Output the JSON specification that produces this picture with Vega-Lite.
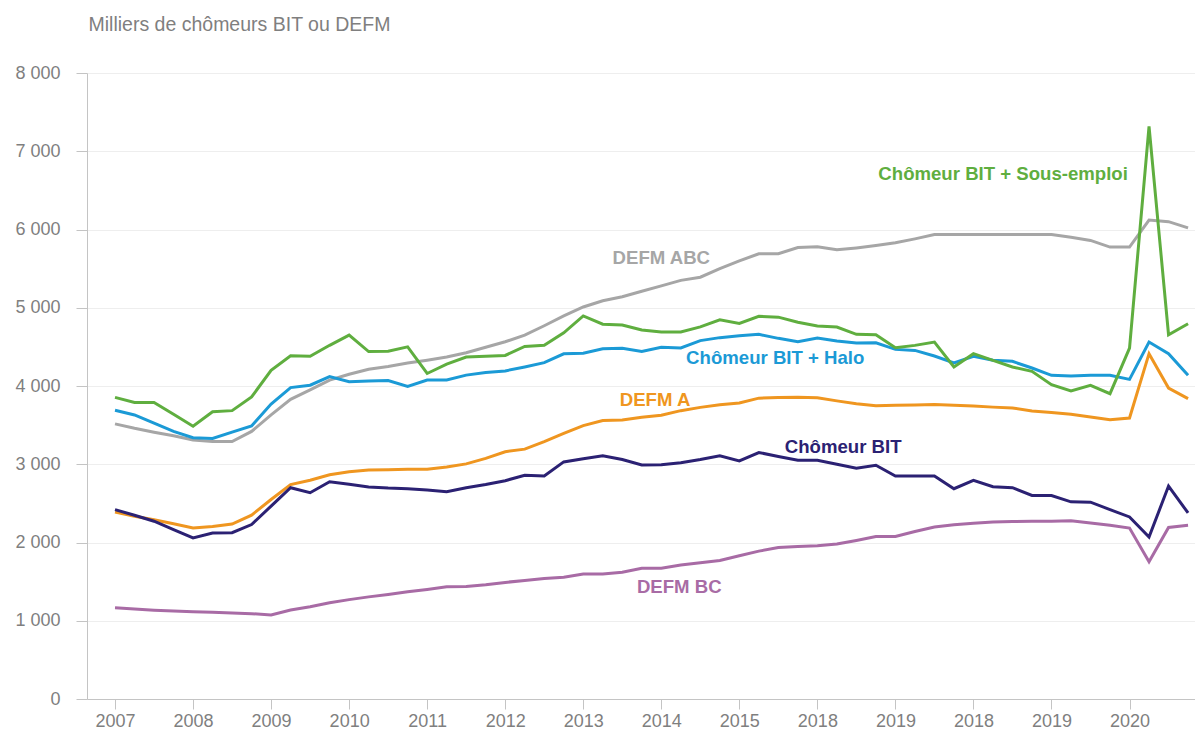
{
  "$schema": "https://vega.github.io/schema/vega-lite/v6.json",
  "width": 1108,
  "height": 626,
  "autosize": {"type": "none"},
  "padding": {"left": 87, "top": 73, "right": 0, "bottom": 32},
  "background": "white",
  "config": {"view": {"stroke": null}, "font": "Liberation Sans"},
  "datasets": {
    "series": [
      {"t": 2007, "abc": 3516, "bc": 1167, "a": 2390, "bit": 2420, "halo": 3690, "sous": 3855},
      {"t": 2007.25, "abc": 3460, "bc": 1150, "a": 2335, "bit": 2349, "halo": 3630, "sous": 3790},
      {"t": 2007.5, "abc": 3410, "bc": 1135, "a": 2290, "bit": 2272, "halo": 3525, "sous": 3790},
      {"t": 2007.75, "abc": 3365, "bc": 1125, "a": 2240, "bit": 2165, "halo": 3420, "sous": 3640},
      {"t": 2008, "abc": 3310, "bc": 1116, "a": 2185, "bit": 2058, "halo": 3340, "sous": 3485},
      {"t": 2008.25, "abc": 3290, "bc": 1108, "a": 2205, "bit": 2122, "halo": 3330, "sous": 3670},
      {"t": 2008.5, "abc": 3290, "bc": 1100, "a": 2235, "bit": 2125, "halo": 3410, "sous": 3685},
      {"t": 2008.75, "abc": 3420, "bc": 1090, "a": 2350, "bit": 2229, "halo": 3490, "sous": 3860},
      {"t": 2009, "abc": 3630, "bc": 1075, "a": 2550, "bit": 2465, "halo": 3770, "sous": 4200},
      {"t": 2009.25, "abc": 3830, "bc": 1137, "a": 2740, "bit": 2700, "halo": 3980, "sous": 4385},
      {"t": 2009.5, "abc": 3950, "bc": 1180, "a": 2795, "bit": 2636, "halo": 4010, "sous": 4380},
      {"t": 2009.75, "abc": 4075, "bc": 1230, "a": 2865, "bit": 2777, "halo": 4120, "sous": 4520},
      {"t": 2010, "abc": 4150, "bc": 1270, "a": 2905, "bit": 2743, "halo": 4055, "sous": 4650},
      {"t": 2010.25, "abc": 4215, "bc": 1305, "a": 2925, "bit": 2709, "halo": 4065, "sous": 4440},
      {"t": 2010.5, "abc": 4250, "bc": 1335, "a": 2930, "bit": 2695, "halo": 4070, "sous": 4445},
      {"t": 2010.75, "abc": 4295, "bc": 1370, "a": 2935, "bit": 2687, "halo": 3995, "sous": 4500},
      {"t": 2011, "abc": 4330, "bc": 1400, "a": 2936, "bit": 2670, "halo": 4076, "sous": 4160},
      {"t": 2011.25, "abc": 4370, "bc": 1435, "a": 2966, "bit": 2649, "halo": 4076, "sous": 4280},
      {"t": 2011.5, "abc": 4425, "bc": 1437, "a": 3005, "bit": 2700, "halo": 4139, "sous": 4370},
      {"t": 2011.75, "abc": 4495, "bc": 1460, "a": 3075, "bit": 2740, "halo": 4172, "sous": 4380},
      {"t": 2012, "abc": 4565, "bc": 1490, "a": 3160, "bit": 2790, "halo": 4193, "sous": 4390},
      {"t": 2012.25, "abc": 4650, "bc": 1515, "a": 3193, "bit": 2859, "halo": 4244, "sous": 4505},
      {"t": 2012.5, "abc": 4770, "bc": 1540, "a": 3290, "bit": 2850, "halo": 4298, "sous": 4520},
      {"t": 2012.75, "abc": 4895, "bc": 1557, "a": 3394, "bit": 3030, "halo": 4412, "sous": 4680},
      {"t": 2013, "abc": 5010, "bc": 1598, "a": 3493, "bit": 3070, "halo": 4420, "sous": 4895},
      {"t": 2013.25, "abc": 5090, "bc": 1596, "a": 3560, "bit": 3107, "halo": 4475, "sous": 4790},
      {"t": 2013.5, "abc": 5140, "bc": 1620, "a": 3565, "bit": 3060, "halo": 4483, "sous": 4780},
      {"t": 2013.75, "abc": 5210, "bc": 1670, "a": 3600, "bit": 2990, "halo": 4441, "sous": 4715},
      {"t": 2014, "abc": 5280, "bc": 1672, "a": 3626, "bit": 2995, "halo": 4496, "sous": 4690},
      {"t": 2014.25, "abc": 5350, "bc": 1712, "a": 3685, "bit": 3020, "halo": 4487, "sous": 4690},
      {"t": 2014.5, "abc": 5390, "bc": 1740, "a": 3727, "bit": 3060, "halo": 4580, "sous": 4755},
      {"t": 2014.75, "abc": 5500, "bc": 1771, "a": 3760, "bit": 3107, "halo": 4618, "sous": 4845},
      {"t": 2015, "abc": 5600, "bc": 1830, "a": 3782, "bit": 3043, "halo": 4643, "sous": 4800},
      {"t": 2015.25, "abc": 5690, "bc": 1890, "a": 3845, "bit": 3150, "halo": 4660, "sous": 4890},
      {"t": 2015.5, "abc": 5690, "bc": 1935, "a": 3853, "bit": 3100, "halo": 4609, "sous": 4880},
      {"t": 2015.75, "abc": 5770, "bc": 1950, "a": 3857, "bit": 3051, "halo": 4565, "sous": 4815},
      {"t": 2016, "abc": 5780, "bc": 1960, "a": 3851, "bit": 3051, "halo": 4613, "sous": 4766},
      {"t": 2016.25, "abc": 5740, "bc": 1980, "a": 3810, "bit": 3000, "halo": 4574, "sous": 4753},
      {"t": 2016.5, "abc": 5765, "bc": 2026, "a": 3774, "bit": 2950, "halo": 4549, "sous": 4660},
      {"t": 2016.75, "abc": 5795, "bc": 2077, "a": 3748, "bit": 2987, "halo": 4553, "sous": 4655},
      {"t": 2017, "abc": 5830, "bc": 2077, "a": 3753, "bit": 2850, "halo": 4468, "sous": 4489},
      {"t": 2017.25, "abc": 5880, "bc": 2140, "a": 3758, "bit": 2850, "halo": 4455, "sous": 4519},
      {"t": 2017.5, "abc": 5935, "bc": 2197, "a": 3762, "bit": 2850, "halo": 4383, "sous": 4562},
      {"t": 2017.75, "abc": 5935, "bc": 2227, "a": 3755, "bit": 2687, "halo": 4294, "sous": 4243},
      {"t": 2018, "abc": 5935, "bc": 2245, "a": 3745, "bit": 2794, "halo": 4379, "sous": 4413},
      {"t": 2018.25, "abc": 5935, "bc": 2262, "a": 3730, "bit": 2712, "halo": 4328, "sous": 4328},
      {"t": 2018.5, "abc": 5935, "bc": 2268, "a": 3719, "bit": 2700, "halo": 4315, "sous": 4243},
      {"t": 2018.75, "abc": 5935, "bc": 2270, "a": 3681, "bit": 2601, "halo": 4230, "sous": 4187},
      {"t": 2019, "abc": 5935, "bc": 2272, "a": 3660, "bit": 2601, "halo": 4136, "sous": 4017},
      {"t": 2019.25, "abc": 5900, "bc": 2279, "a": 3638, "bit": 2520, "halo": 4128, "sous": 3936},
      {"t": 2019.5, "abc": 5860, "bc": 2250, "a": 3605, "bit": 2515, "halo": 4136, "sous": 4008},
      {"t": 2019.75, "abc": 5775, "bc": 2219, "a": 3570, "bit": 2421, "halo": 4136, "sous": 3902},
      {"t": 2020, "abc": 5775, "bc": 2185, "a": 3591, "bit": 2327, "halo": 4085, "sous": 4485},
      {"t": 2020.25, "abc": 6120, "bc": 1755, "a": 4413, "bit": 2070, "halo": 4562, "sous": 7319},
      {"t": 2020.5, "abc": 6100, "bc": 2193, "a": 3974, "bit": 2721, "halo": 4413, "sous": 4655},
      {"t": 2020.75, "abc": 6020, "bc": 2219, "a": 3838, "bit": 2378, "halo": 4136, "sous": 4796}
    ],
    "labels": [
      {"t": 2018.38, "v": 6709, "s": "sous", "label": "Chômeur BIT + Sous-emploi"},
      {"t": 2014.0, "v": 5640, "s": "abc", "label": "DEFM ABC"},
      {"t": 2015.46, "v": 4358, "s": "halo", "label": "Chômeur BIT + Halo"},
      {"t": 2013.92, "v": 3821, "s": "a", "label": "DEFM A"},
      {"t": 2016.33, "v": 3220, "s": "bit", "label": "Chômeur BIT"},
      {"t": 2014.23, "v": 1431, "s": "bc", "label": "DEFM BC"}
    ]
  },
  "layer": [
    {
      "data": {"name": "series"},
      "transform": [{"fold": ["abc", "bc", "a", "bit", "halo", "sous"], "as": ["s", "v"]}],
      "mark": {"type": "line", "strokeWidth": 3},
      "encoding": {
        "x": {
          "field": "t", "type": "quantitative",
          "scale": {"domain": [2006.641, 2020.839], "nice": false, "zero": false},
          "axis": {
            "title": null,
            "values": [2007, 2008, 2009, 2010, 2011, 2012, 2013, 2014, 2015, 2016, 2017, 2018, 2019, 2020],
            "format": "d",
            "labelExpr": "datum.value == 2016 ? '2018' : datum.value == 2017 ? '2019' : datum.label",
            "grid": false,
            "domainColor": "#c4c4c4",
            "tickColor": "#c4c4c4",
            "tickSize": 10,
            "labelFontSize": 18,
            "labelColor": "#7f7f7f",
            "labelPadding": 3,
            "labelFlush": false,
            "labelOverlap": false
          }
        },
        "y": {
          "field": "v", "type": "quantitative",
          "scale": {"domain": [0, 8000], "nice": false},
          "axis": {
            "values": [0, 1000, 2000, 3000, 4000, 5000, 6000, 7000, 8000],
            "labelExpr": "replace(format(datum.value, ','), ',', ' ')",
            "grid": true,
            "gridColor": "#eeeeee",
            "domainColor": "#c4c4c4",
            "tickColor": "#c4c4c4",
            "tickSize": 11,
            "labelFontSize": 18,
            "labelColor": "#7f7f7f",
            "labelPadding": 16,
            "title": "Milliers de chômeurs BIT ou DEFM",
            "titleAngle": 0,
            "titleX": 1,
            "titleY": -49,
            "titleAlign": "left",
            "titleBaseline": "middle",
            "titleFontSize": 19.5,
            "titleFontWeight": "normal",
            "titleColor": "#7f7f7f"
          }
        },
        "color": {
          "field": "s", "type": "nominal",
          "scale": {
            "domain": ["abc", "bc", "a", "bit", "halo", "sous"],
            "range": ["#a6a6a6", "#a86ba5", "#ef9620", "#2b2173", "#1b9ad6", "#5fae3f"]
          },
          "legend": null
        }
      }
    },
    {
      "data": {"name": "labels"},
      "mark": {"type": "text", "fontSize": 18.6, "fontWeight": "bold", "align": "center", "baseline": "middle"},
      "encoding": {
        "x": {"field": "t", "type": "quantitative"},
        "y": {"field": "v", "type": "quantitative"},
        "text": {"field": "label"},
        "color": {"field": "s", "type": "nominal", "legend": null}
      }
    }
  ]
}
